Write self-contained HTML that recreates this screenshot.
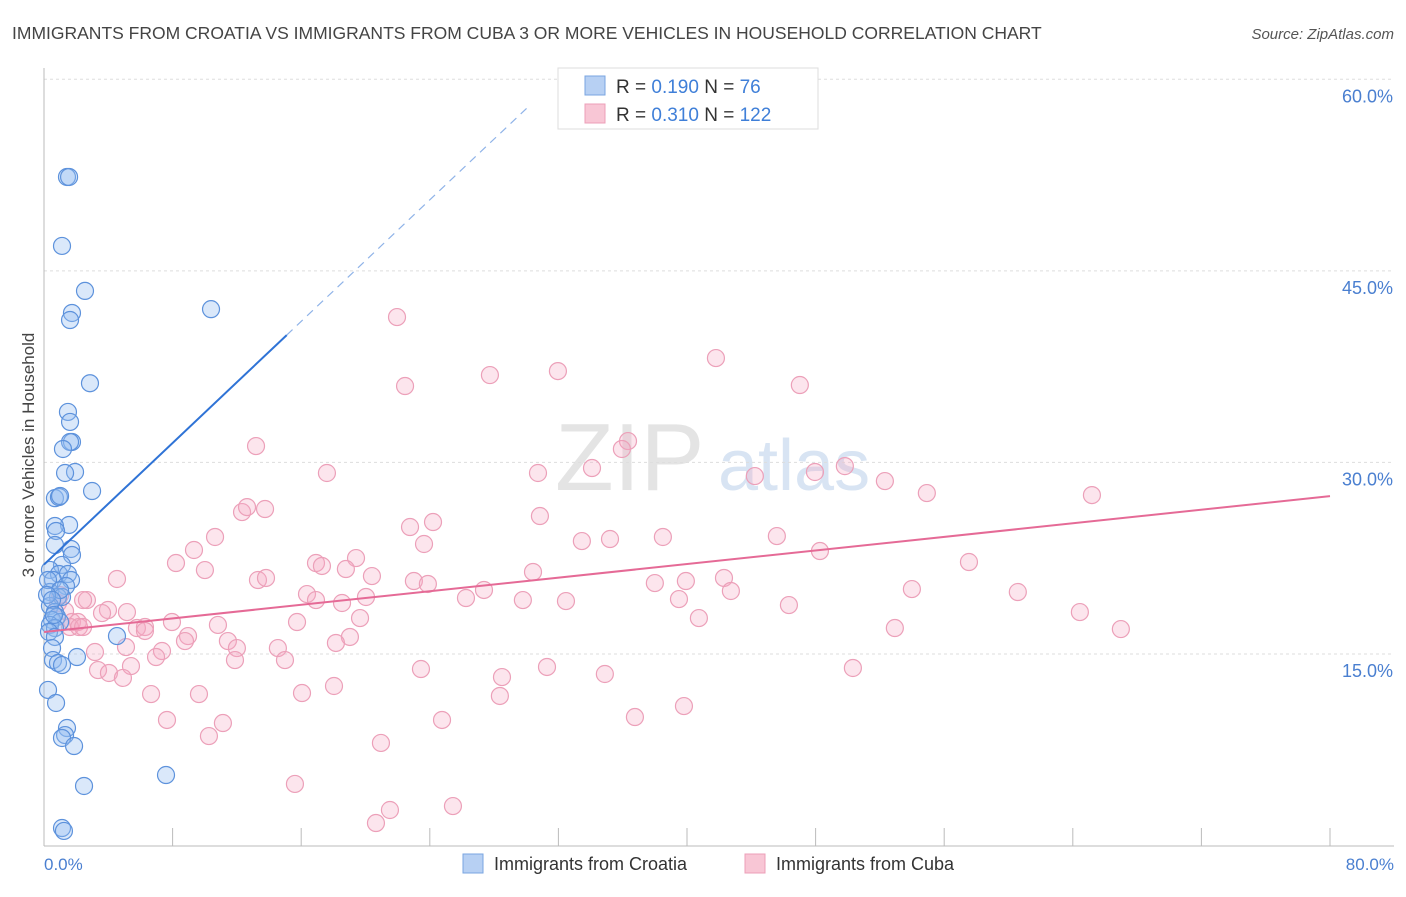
<!DOCTYPE html>
<html><head><meta charset="utf-8"><style>
body{margin:0;background:#fff;font-family:"Liberation Sans",sans-serif;}
svg text{font-family:"Liberation Sans",sans-serif;}
</style></head><body>
<svg id="chart" width="1406" height="892" viewBox="0 0 1406 892" xmlns="http://www.w3.org/2000/svg">
<text x="12" y="39" font-size="17.5" fill="#444">IMMIGRANTS FROM CROATIA VS IMMIGRANTS FROM CUBA 3 OR MORE VEHICLES IN HOUSEHOLD CORRELATION CHART</text>
<text x="1394" y="39" font-size="15" fill="#555" font-style="italic" text-anchor="end">Source: ZipAtlas.com</text>
<g>
<text x="555" y="490" font-size="96" fill="#e4e4e4" font-family="Liberation Serif, serif">ZIP</text>
<text x="718" y="490" font-size="72" fill="#d8e4f3">atlas</text>
</g>
<g id="grid"></g>
<g id="axes"></g>
<g id="pts"></g>
<g id="trend"></g>
<text transform="translate(34,455) rotate(-90)" font-size="17" fill="#444" text-anchor="middle">3 or more Vehicles in Household</text>
<text x="44" y="870" font-size="17" fill="#4a7fd0">0.0%</text>
<text x="1394" y="870" font-size="17" fill="#4a7fd0" text-anchor="end">80.0%</text>
<g>
<rect x="558" y="68" width="260" height="61" fill="#fff" stroke="#ddd"/>
<rect x="585" y="76" width="20" height="19" fill="#b7d0f3" stroke="#7aa5e0"/>
<rect x="585" y="104" width="20" height="19" fill="#f8c6d5" stroke="#ec9fb8"/>
<text x="616" y="93" font-size="19" fill="#333">R = <tspan fill="#3f7fd8">0.190</tspan>   N =  <tspan fill="#3f7fd8"> 76</tspan></text>
<text x="616" y="121" font-size="19" fill="#333">R = <tspan fill="#3f7fd8">0.310</tspan>   N = <tspan fill="#3f7fd8">122</tspan></text>
</g>
<g>
<rect x="463" y="854" width="20" height="19" fill="#b7d0f3" stroke="#7aa5e0"/>
<text x="494" y="870" font-size="18" fill="#333">Immigrants from Croatia</text>
<rect x="745" y="854" width="20" height="19" fill="#f8c6d5" stroke="#ec9fb8"/>
<text x="776" y="870" font-size="18" fill="#333">Immigrants from Cuba</text>
</g>
</svg>
<script>
const yTicks=[15,30,45,60];
const yTickLabels=["15.0%","30.0%","45.0%","60.0%"];
const xTicks=[0,8,16,24,32,40,48,56,64,72,80];
const croatiaX=[1.43,1.56,1.12,2.55,1.74,1.62,10.39,2.86,1.49,1.62,1.74,1.62,1.18,1.93,1.31,2.99,0.68,0.93,1.0,1.56,0.68,0.75,0.68,1.68,1.74,1.12,0.37,0.93,1.49,1.68,0.56,1.37,0.37,0.87,1.12,0.37,0.68,0.81,0.5,1.0,0.37,0.68,0.31,0.68,4.54,0.5,2.05,0.56,0.87,1.12,0.25,0.75,1.43,1.31,1.12,1.87,7.59,2.49,1.12,1.24,0.25,1.0,0.19,0.5,0.62];
const croatiaY=[52.35,52.35,46.95,43.43,41.7,41.15,42.0,36.2,33.95,33.17,31.6,31.6,31.05,29.25,29.17,27.76,27.2,27.29,27.37,25.1,25.02,24.63,23.53,23.22,22.75,21.97,21.58,21.26,21.26,20.79,20.79,20.32,19.85,19.46,19.46,18.76,18.29,17.9,17.66,17.5,17.27,17.03,16.72,16.33,16.4,15.46,14.76,14.52,14.29,14.13,12.18,11.16,9.2,8.65,8.42,7.79,5.52,4.66,1.37,1.14,20.79,20.0,19.62,19.23,18.05];
const cubaX=[21.96,41.8,22.46,27.74,31.97,47.02,13.19,36.33,35.95,17.6,30.73,34.09,47.96,49.82,52.31,54.92,65.19,44.22,12.32,12.63,13.75,22.77,24.2,30.85,23.64,33.46,35.21,38.5,45.59,10.64,9.33,48.27,8.21,10.01,16.92,17.29,19.41,18.78,20.4,30.42,57.54,4.54,13.31,13.81,23.01,23.88,38.0,39.93,42.3,42.73,53.99,16.36,16.92,18.54,20.03,26.25,27.37,29.79,32.47,39.5,60.58,2.67,0.87,1.31,3.98,3.61,5.16,1.74,2.11,1.62,2.18,2.43,5.78,6.28,7.96,6.28,10.82,15.74,19.66,46.34,40.74,64.44,66.99,52.93,8.96,8.77,11.44,12.0,19.03,18.16,5.1,3.17,7.34,6.97,14.55,14.99,11.88,3.36,4.04,5.41,4.91,23.45,28.49,31.29,34.89,50.32,6.66,9.64,16.05,18.04,7.65,11.13,10.26,24.76,28.36,36.76,39.81,20.96,15.61,21.52,25.44,20.65,2.43,1.0];
const cubaY=[41.38,38.17,35.98,36.84,37.15,36.06,31.28,31.67,31.05,29.17,29.17,29.56,29.25,29.71,28.54,27.6,27.44,28.93,26.11,26.5,26.35,24.94,25.33,25.8,23.61,23.84,24.0,24.16,24.23,24.16,23.14,23.06,22.12,21.57,22.12,21.89,22.51,21.65,21.1,21.42,22.2,20.87,20.79,20.95,20.71,20.48,20.55,20.71,20.95,19.93,20.08,19.69,19.22,18.99,19.46,19.38,20.01,19.22,19.14,19.3,19.85,19.22,18.99,18.36,18.44,18.2,18.28,17.5,17.5,17.11,17.11,17.11,17.03,17.11,17.5,16.8,17.27,17.5,17.81,18.83,17.81,18.28,16.95,17.03,16.4,16.01,16.01,15.46,16.33,15.86,15.54,15.15,15.23,14.76,15.46,14.52,14.52,13.74,13.51,14.05,13.12,13.82,13.19,13.98,13.43,13.9,11.86,11.86,11.94,12.49,9.83,9.59,8.57,9.83,11.71,10.06,10.92,8.03,4.82,2.78,3.09,1.76,19.22,19.61];
const croatiaTrend=[22.0,1.19]; // intercept, slope
const cubaTrend=[16.72,0.133];
const NS="http://www.w3.org/2000/svg";
const X0=44,X1=1330,Y0=845.5,PPY=12.77;
function xs(v){return X0+(X1-X0)*v/80;}
function ys(v){return Y0-v*PPY;}
function mk(t,a,p){const e=document.createElementNS(NS,t);for(const k in a)e.setAttribute(k,a[k]);p.appendChild(e);return e;}
const grid=document.getElementById('grid'),axes=document.getElementById('axes');
yTicks.forEach((t,i)=>{
 const l=mk('line',{x1:X0,x2:1394,y1:ys(t),y2:ys(t),stroke:'#ddd','stroke-dasharray':'3,3'},grid);
 
 
 const tx=mk('text',{x:1393,y:ys(t)+23,'font-size':18,fill:'#4a7fd0','text-anchor':'end'},axes);
 tx.textContent=yTickLabels[i];
 
 
});
const al=mk('line',{x1:X0,x2:X0,y1:68,y2:846,stroke:'#bbb'},axes);


const bl=mk('line',{x1:X0,x2:1394,y1:846,y2:846,stroke:'#bbb'},axes);


xTicks.forEach(t=>{
 const l=mk('line',{x1:xs(t),x2:xs(t),y1:828,y2:846,stroke:'#bbb'},axes);
 
 
});
const pts=document.getElementById('pts');


cubaX.forEach((x,i)=>{
 const c=mk('circle',{cx:xs(x),cy:ys(cubaY[i]),r:8.5,fill:'rgba(245,170,195,0.3)',stroke:'#eca0b9','stroke-width':1.2},pts);
 
 
});
croatiaX.forEach((x,i)=>{
 const c=mk('circle',{cx:xs(x),cy:ys(croatiaY[i]),r:8.5,fill:'rgba(150,190,240,0.35)',stroke:'#5d92dc','stroke-width':1.2},pts);
 
 
});
const tr=document.getElementById('trend');
const bx=15.1,bxe=30.1;
const t1=mk('line',{x1:xs(0),y1:ys(croatiaTrend[0]),x2:xs(bx),y2:ys(croatiaTrend[0]+croatiaTrend[1]*bx),stroke:'#2f73d6','stroke-width':2},tr);


const t2=mk('line',{x1:xs(bx),y1:ys(croatiaTrend[0]+croatiaTrend[1]*bx),x2:xs(bxe),y2:ys(croatiaTrend[0]+croatiaTrend[1]*bxe),stroke:'#8fb3e8','stroke-width':1.2,'stroke-dasharray':'8,6'},tr);


const t3=mk('line',{x1:xs(0),y1:ys(cubaTrend[0]),x2:xs(80),y2:ys(cubaTrend[0]+cubaTrend[1]*80),stroke:'#e56a96','stroke-width':2},tr);


</script>
</body></html>
